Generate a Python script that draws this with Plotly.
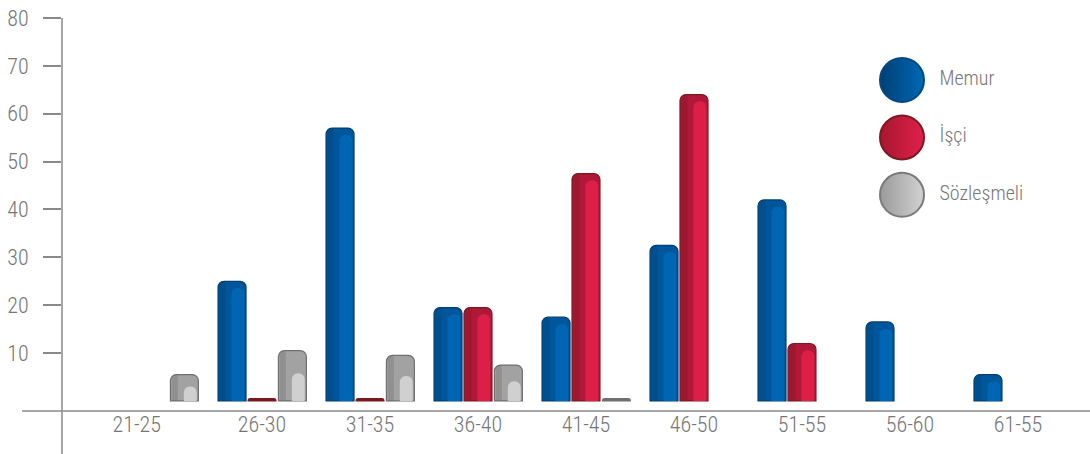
import plotly.graph_objects as go

# Age groups and headcounts per staff type
age_groups = ["21-25", "26-30", "31-35", "36-40", "41-45", "46-50", "51-55", "56-60", "61-55"]
memur = [None, 25, 57, 19.5, 17.5, 32.5, 42, 16.5, 5.5]
isci = [None, 0.5, 0.5, 19.5, 47.5, 64, 12, None, None]
sozlesmeli = [5.5, 10.5, 9.5, 7.5, 0.5, None, None, None, None]
series_names = ["Memur", "İşçi", "Sözleşmeli"]
y_ticks = [10, 20, 30, 40, 50, 60, 70, 80]

FONT = "Roboto Condensed, Liberation Sans Narrow, DejaVu Sans Condensed, sans-serif"
TEXT = "#767676"
AXIS = "#8a8a8a"

BAR_W = 0.259
styles = [
    # values, offset of the bar's left edge, body colour, border, highlight colour, highlight rule
    (memur, -0.407, "#00569a", "#003f73", "#0066b3", "drop"),
    (isci, -0.1295, "#b0183a", "#7a1a1e", "#dd1f48", "drop"),
    (sozlesmeli, 0.152, "#a2a2a2", "#6f6f6f", "#d0d0d0", "half"),
]

fig = go.Figure()

for vals, off, body, border, hi, rule in styles:
    # bar body; near-zero bars are drawn as a flat stroke in the border colour
    fig.add_trace(go.Bar(
        x=age_groups, y=vals, offset=off, width=BAR_W,
        marker=dict(
            color=[border if (v is not None and v < 1) else body for v in vals],
            line=dict(color=border, width=1.2), cornerradius=6,
        ),
        showlegend=False, hoverinfo="skip",
    ))
    # darker left edge
    fig.add_trace(go.Bar(
        x=age_groups, y=[v if (v is not None and v > 1) else None for v in vals],
        offset=off + 0.012, width=BAR_W * 0.22,
        marker=dict(color=border, opacity=0.35, line=dict(width=0), cornerradius=5),
        showlegend=False, hoverinfo="skip",
    ))
    # lighter glossy strip on the right
    hl = []
    for v in vals:
        if v is None or v < 2:
            hl.append(None)
        elif rule == "half":
            hl.append(v * 0.55)
        else:
            hl.append(v - 1.4 if v > 2.3 else v * 0.45)
    fig.add_trace(go.Bar(
        x=age_groups, y=hl, offset=off + BAR_W * 0.48, width=BAR_W * 0.46,
        marker=dict(color=hi, line=dict(width=0), cornerradius=6),
        showlegend=False, hoverinfo="skip",
    ))

# legend built as a marker column on its own axes
fig.add_trace(go.Scatter(
    x=[0, 0, 0], y=[2, 1, 0], mode="markers+text",
    text=["  " + n for n in series_names], textposition="middle right",
    textfont=dict(family=FONT, size=20, color=TEXT, weight=300),
    marker=dict(
        size=44,
        color=["#003f73", "#a8162f", "#9a9a9a"],
        line=dict(color=["#004a80", "#7a1a1e", "#7a7a7a"], width=2),
        gradient=dict(type="horizontal", color=["#0068b5", "#e0204a", "#d2d2d2"]),
    ),
    xaxis="x2", yaxis="y2", showlegend=False, hoverinfo="skip", cliponaxis=False,
))

fig.update_layout(
    width=1090, height=454,
    margin=dict(l=62, r=0, t=18, b=43),
    paper_bgcolor="white", plot_bgcolor="rgba(0,0,0,0)",
    barmode="overlay",
    showlegend=False,
    font=dict(family=FONT, color=TEXT),
    xaxis=dict(
        type="category", range=[-0.852, 8.667],
        tickvals=[-0.16] + list(range(1, len(age_groups))), ticktext=age_groups,
        showgrid=False, zeroline=False, showline=False, ticks="",
        tickfont=dict(family=FONT, size=22, color=TEXT, weight=300),
        ticklabelstandoff=-2,
        fixedrange=True,
    ),
    yaxis=dict(
        range=[-2.1, 80], tickvals=y_ticks,
        showgrid=False, zeroline=False, showline=False,
        ticks="outside", ticklen=18, tickwidth=1.5, tickcolor=AXIS,
        tickfont=dict(family=FONT, size=22, color=TEXT, weight=300),
        ticklabelstandoff=10,
        fixedrange=True,
    ),
    xaxis2=dict(domain=[0, 1], range=[-840, 188], visible=False, fixedrange=True),
    yaxis2=dict(domain=[0, 1], range=[-3.767, 3.082], visible=False, fixedrange=True,
                anchor="x2"),
    shapes=[
        # horizontal base axis, running past the vertical one
        dict(type="line", xref="paper", yref="paper", x0=-40 / 1028, x1=1, y0=0, y1=0,
             line=dict(color=AXIS, width=1.5)),
        # vertical axis, running down to the bottom edge
        dict(type="line", xref="paper", yref="paper", x0=0, x1=0, y0=-43 / 393, y1=1,
             line=dict(color=AXIS, width=1.5)),
    ],
)

fig.write_html("out.html")
